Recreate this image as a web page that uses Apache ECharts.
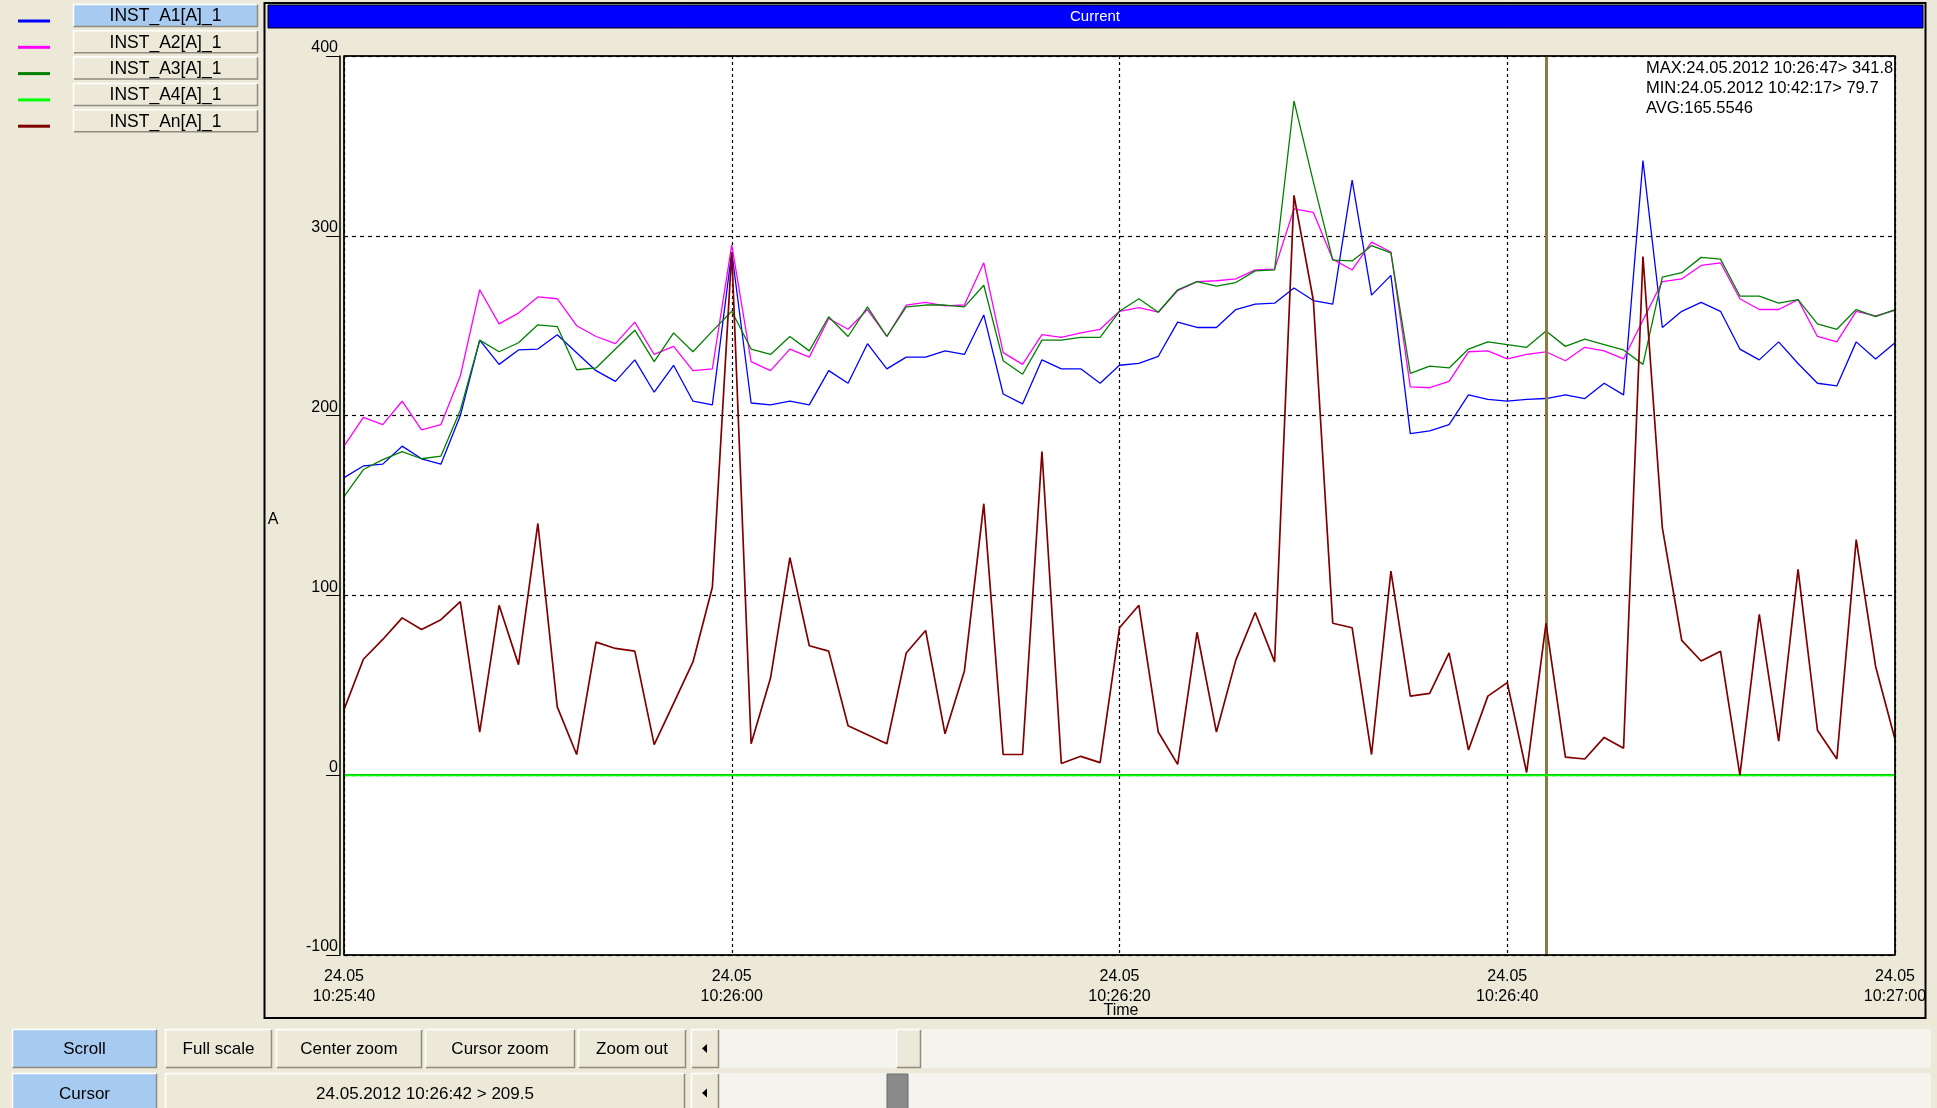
<!DOCTYPE html>
<html><head><meta charset="utf-8">
<script src="https://cdn.jsdelivr.net/npm/echarts@6/dist/echarts.min.js"></script>
<style>html,body{margin:0;padding:0;background:#ECE9D8;}#c{width:1937px;height:1108px;}</style>
</head><body><div id="c"></div>
<script>
// ---------- DATA ----------
const seriesNames = ['INST_A1[A]_1','INST_A2[A]_1','INST_A3[A]_1','INST_A4[A]_1','INST_An[A]_1'];
const seriesColors = ['#0000FF','#FF00FF','#008000','#00FF00','#800000'];
const dateLabel = '24.05';
const startTime = [10,25,40];     // 10:25:40, one sample per second, 81 samples
const cursorTime = '10:26:42';
const yTicks = [-100,0,100,200,300,400];
const statLines = ['MAX:24.05.2012 10:26:47> 341.8','MIN:24.05.2012 10:42:17> 79.7','AVG:165.5546'];
const titleText = 'Current';
const yName = 'A';
const xName = 'Time';

const a1 = [165.5,172,173,183,176,173,200,242,228.5,236.5,237,245,235,225,219,231,213,228,208,206,
  291,207,206,208,206,225,218,240,226,232.5,232.5,236,234,256,212,206.5,231,226,226,218,
  228,229,233,252,249,249,259,262,262.5,271,264,262,331,267,278,190,191.5,195,211.5,209,
  208,209,209.5,211.5,209.5,218,211.5,341.8,249,258,263,258,237,231,241,229,218,216.5,241,231.5,240.5];
const a2 = [183,199,195,208,192,195,222,270,251,257,266,265,250,244,240,252,234,238.5,225,226,
  295,230,225,237,232.5,254,248,259,244,261.5,263,261,261.5,285,235,228.5,245,243.5,246,248,
  258,260,257.5,269.5,274.5,275,276,281,281.5,315,313,287,281,296.5,291,216,215.5,219,235.5,236,
  231.5,234,235.5,230.5,238,236,231.5,253,274.5,276,283.5,285,265,259,259,264.5,244,241,258,255.5,258.5];
const a3 = [155,170,175.5,180,176,177.5,203,242,235.5,240.5,250.5,249.5,225.5,226.5,237,247.5,230,246,235.5,247,
  258,237,234,244,236,255,244,260.5,244,260.5,261.5,261.5,260.5,272.5,230.5,223,242,242,243.5,243.5,
  258,265,257.5,270,274.5,272,274,280.5,281,375,330,286.5,286,294.5,290.5,223.5,227.5,226.5,237,241,
  239.5,238,247,238.5,242.5,239.5,236.5,228.5,277,279.5,288,287,266.5,266.5,262.5,264.5,251,248,259,255,259];
const a4 = [0,0,0,0,0,0,0,0,0,0,0,0,0,0,0,0,0,0,0,0,
  0,0,0,0,0,0,0,0,0,0,0,0,0,0,0,0,0,0,0,0,
  0,0,0,0,0,0,0,0,0,0,0,0,0,0,0,0,0,0,0,0,
  0,0,0,0,0,0,0,0,0,0,0,0,0,0,0,0,0,0,0,0,0];
const an = [36.5,64.5,75.5,87.5,81,86.5,96.5,24,94.5,61.5,140,38,11.5,74,70.5,69,17,40,63,104.5,
  291,17.5,54,121,72,69,27.5,22.5,17.5,68,80.5,23,58,151,11.5,11.5,180,6.5,10.5,7,
  82,94.5,24,6,79.5,24,64,90.5,63,322.5,264,84.5,82,11.5,113.5,44,45.5,68,14,44,
  51.5,1.5,84.5,10,9,21,15,288.5,137.5,75,63.5,69,0,89.5,19,114.5,25,9,131,60.5,20];
const seriesData = [a1,a2,a3,a4,an];

// categories (time stamps, one per second)
const pad = n => (n<10?'0':'')+n;
const categories = [];
for (let i=0;i<a1.length;i++){
  let s = startTime[0]*3600+startTime[1]*60+startTime[2]+i;
  categories.push(pad(Math.floor(s/3600))+':'+pad(Math.floor(s/60)%60)+':'+pad(s%60));
}

// ---------- LAYOUT ----------
const FONT = "'Liberation Sans', Arial, sans-serif";
const G = {left:344, top:56, width:1551, height:899};

function txt(x,y,t,size,color,align,valign,z){
  return {type:'text', x:x, y:y, z:z||10, silent:true,
    style:{text:t, fill:color||'#000', font:(size||16)+'px '+FONT,
      textAlign:align||'center', textVerticalAlign:valign||'middle', align:align||'center', verticalAlign:valign||'middle'}};
}
function btn(x,y,w,h,label,fill,fs){
  const els = [
    {type:'rect', z:5, shape:{x:x,y:y,width:w,height:h}, style:{fill:fill}},
    {type:'polyline', z:6, shape:{points:[[x+0.5,y+h-1],[x+0.5,y+0.5],[x+w-1,y+0.5]]}, style:{stroke:'#FFFFFF', lineWidth:1.5, fill:null}},
    {type:'polyline', z:6, shape:{points:[[x+1,y+h-0.5],[x+w-0.5,y+h-0.5],[x+w-0.5,y+1]]}, style:{stroke:'#8E8C80', lineWidth:1.5, fill:null}}
  ];
  if (label) els.push(txt(x+w/2, y+h/2+1, label, fs||17, '#000','center','middle',7));
  return els;
}

let gfx = [];
// legend (left column)
seriesNames.forEach((nm,i)=>{
  const y = 4 + i*26.3;
  gfx.push({type:'line', z:5, shape:{x1:18,y1:y+17,x2:50,y2:y+17}, style:{stroke:seriesColors[i], lineWidth:3}});
  gfx = gfx.concat(btn(73, y, 185, 23, nm, i===0?'#A6CAF0':'#ECE9D8', 17.5));
});
// chart panel border
gfx.push({type:'rect', z:4, shape:{x:264.5,y:3,width:1661,height:1015}, style:{fill:null, stroke:'#000', lineWidth:2}});
// title bar
gfx.push({type:'rect', z:5, shape:{x:268,y:5,width:1655,height:23}, style:{fill:'#0000FF', stroke:'#000', lineWidth:1}});
gfx.push(txt(1095, 17, titleText, 15, '#FFFFFF'));
// plot border on top
gfx.push({type:'rect', z:50, silent:true, shape:{x:G.left,y:G.top,width:G.width,height:G.height}, style:{fill:null, stroke:'#000', lineWidth:1.5}});
// stats text
statLines.forEach((s,i)=>gfx.push(txt(1646, 68+i*20, s, 16.5, '#000','left','middle',60)));
// axis names
gfx.push(txt(273, 520, yName, 16));
gfx.push(txt(1121, 1011, xName, 16));

// bottom controls row 1
gfx = gfx.concat(btn(12,1029,145,39,'Scroll','#A6CAF0'));
gfx = gfx.concat(btn(165,1029,107,39,'Full scale','#ECE9D8'));
gfx = gfx.concat(btn(276,1029,146,39,'Center zoom','#ECE9D8'));
gfx = gfx.concat(btn(425,1029,150,39,'Cursor zoom','#ECE9D8'));
gfx = gfx.concat(btn(578,1029,108,39,'Zoom out','#ECE9D8'));
gfx.push({type:'rect', z:4, shape:{x:691,y:1029,width:1240,height:39}, style:{fill:'#F4F3EE'}});
gfx = gfx.concat(btn(691,1029,28,39,'','#ECE9D8'));
gfx.push({type:'polygon', z:8, shape:{points:[[702,1048.5],[707,1044],[707,1053]]}, style:{fill:'#000'}});
gfx = gfx.concat(btn(896,1029,25,39,'','#ECE9D8'));
// bottom controls row 2
gfx = gfx.concat(btn(12,1073,145,40,'Cursor','#A6CAF0'));
const ci = categories.indexOf(cursorTime);
gfx = gfx.concat(btn(165,1073,520,40,'24.05.2012 '+cursorTime+' > '+a1[ci],'#ECE9D8'));
gfx.push({type:'rect', z:4, shape:{x:691,y:1073,width:1240,height:40}, style:{fill:'#F4F3EE'}});
gfx = gfx.concat(btn(691,1073,28,40,'','#ECE9D8'));
gfx.push({type:'polygon', z:8, shape:{points:[[702,1093],[707,1088.5],[707,1097.5]]}, style:{fill:'#000'}});
gfx.push({type:'rect', z:6, shape:{x:887,y:1074,width:21,height:40}, style:{fill:'#8A8A8A', stroke:'#6A6A6A', lineWidth:1}});

const chart = echarts.init(document.getElementById('c'), null, {renderer:'canvas'});
chart.setOption({
  backgroundColor:'#ECE9D8',
  animation:false,
  textStyle:{fontFamily:FONT},
  grid:{left:G.left, top:G.top, width:G.width, height:G.height, show:true, backgroundColor:'#FFFFFF', borderColor:'#000', borderWidth:1, containLabel:false},
  xAxis:{
    type:'category', data:categories, boundaryGap:false, offset:3,
    axisLine:{show:true, lineStyle:{color:'#000', width:1.5}},
    axisTick:{show:true, length:3, interval:19, lineStyle:{color:'#000'}},
    axisLabel:{show:true, interval:19, color:'#000', fontSize:16, lineHeight:20, margin:9, fontFamily:FONT,
      formatter:v=>dateLabel+'\n'+v},
    splitLine:{show:true, interval:19, lineStyle:{color:'#000', type:[3,3], width:1.2}}
  },
  yAxis:{
    type:'value', min:yTicks[0], max:yTicks[yTicks.length-1], interval:100, offset:4,
    axisLine:{show:true, lineStyle:{color:'#000', width:1.5}},
    axisTick:{show:true, length:14, lineStyle:{color:'#000'}},
    axisLabel:{show:true, color:'#000', fontSize:16, margin:2, verticalAlign:'bottom', fontFamily:FONT},
    splitLine:{show:true, lineStyle:{color:'#000', type:[4,4], width:1.2}}
  },
  series: seriesNames.map((nm,i)=>({
    name:nm, type:'line', data:seriesData[i], showSymbol:false, symbol:'none',
    lineStyle:{color:seriesColors[i], width: i===4?1.7:(i===3?2:1.3)},
    itemStyle:{color:seriesColors[i]}, z: 2+i,
    markLine: i===4 ? {symbol:['none','none'], silent:true, label:{show:false}, animation:false,
      lineStyle:{color:'#8C7A40', width:3, type:'solid'}, data:[{xAxis:cursorTime}]} : undefined
  })),
  graphic:{elements:gfx}
});
</script>
</body></html>
